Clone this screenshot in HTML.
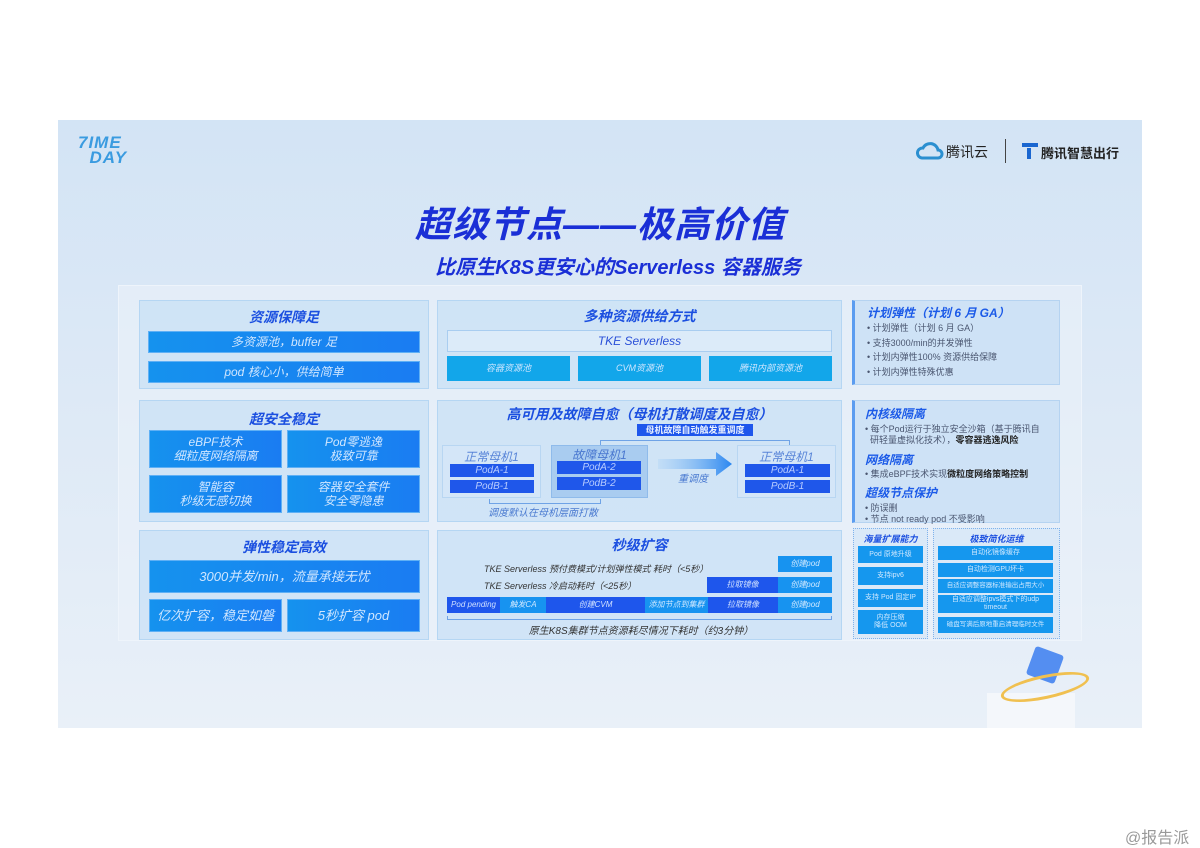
<!DOCTYPE html>
<html><head><meta charset="utf-8"><style>
*{margin:0;padding:0;box-sizing:border-box}
body{width:1200px;height:848px;background:#fff;position:relative;overflow:hidden;font-family:"Liberation Sans","Noto Sans CJK SC",sans-serif}
.a{position:absolute}
.slide{left:58px;top:120px;width:1084px;height:608px;background:linear-gradient(180deg,#d3e4f5 0%,#dde9f6 45%,#e9f0f8 100%)}
.panel{position:absolute;background:rgba(200,224,245,.75);border:1px solid #b5d6f3}
.t{position:absolute;left:0;right:0;text-align:center;color:#1b4fe0;font-weight:bold;font-style:italic}
.bar{position:absolute;color:#cfe6ff;font-style:italic;text-align:center;display:flex;align-items:center;justify-content:center;line-height:1.2}
.c1{background:linear-gradient(90deg,#1592ee,#1a7cf2);border:1px solid #5fb0f5}
.c2{background:#12a6ea}
.db{background:#1e56ec;color:#cfe0ff}
.cy{background:#1793f0;color:#cfe8ff}
.pod{position:absolute;background:#1f57ea;color:#b9cdff;font-size:10px;font-style:italic;text-align:center;line-height:13px}
.rt{color:#1b5ae8;font-weight:bold;font-style:italic;font-size:12px}
.li{font-size:9px;color:#4a5670;line-height:14.5px}
.sb{position:absolute;background:#1597ee;color:#cfe8ff;font-size:7px;text-align:center;display:flex;align-items:center;justify-content:center;line-height:1.1;white-space:nowrap;overflow:hidden}
</style></head><body>
<div class="a slide"></div>
<div class="a" style="left:78px;top:135px;color:#3a9be0;font-weight:bold;font-style:italic;font-size:17px;line-height:15px;letter-spacing:1px">7IME<br>&nbsp;&nbsp;DAY</div>
<svg class="a" style="left:916px;top:140px" width="28" height="22"><path d="M6 18a5 5 0 0 1 1-10a8 8 0 0 1 15 2a4 4 0 0 1 0 8z" fill="none" stroke="#2b8fd0" stroke-width="3"/></svg>
<div class="a" style="left:946px;top:142px;font-size:14px;color:#222">腾讯云</div>
<div class="a" style="left:1005px;top:139px;width:1px;height:24px;background:#444"></div>
<div class="a" style="left:1022px;top:143px;width:16px;height:4px;background:#1a66d0"></div>
<div class="a" style="left:1027px;top:148px;width:4px;height:11px;background:#1a66d0"></div>
<div class="a" style="left:1041px;top:143px;font-size:13px;color:#222;font-weight:bold">腾讯智慧出行</div>
<div class="a" style="left:0;width:1200px;top:196px;text-align:center;font-size:36px;font-weight:bold;font-style:italic;color:#1a2fd6;letter-spacing:1px">超级节点——极高价值</div>
<div class="a" style="left:0;width:1236px;top:251px;text-align:center;font-size:20px;font-weight:bold;font-style:italic;color:#1a2fd6">比原生K8S更安心的Serverless 容器服务</div>
<div class="a" style="left:118px;top:285px;width:964px;height:356px;background:rgba(235,242,250,.6);border:1px solid #eef4fb"></div>

<div class="panel" style="left:139px;top:300px;width:290px;height:89px"><div class="t" style="top:6px;font-size:14px">资源保障足</div></div>
<div class="bar c1" style="left:148px;top:331px;width:272px;height:22px;font-size:12px">多资源池，buffer 足</div>
<div class="bar c1" style="left:148px;top:361px;width:272px;height:22px;font-size:12px">pod 核心小，供给简单</div>

<div class="panel" style="left:139px;top:400px;width:290px;height:122px"><div class="t" style="top:8px;font-size:14px">超安全稳定</div></div>
<div class="bar c1" style="left:149px;top:430px;width:133px;height:38px;font-size:12px">eBPF技术<br>细粒度网络隔离</div>
<div class="bar c1" style="left:287px;top:430px;width:133px;height:38px;font-size:12px">Pod零逃逸<br>极致可靠</div>
<div class="bar c1" style="left:149px;top:475px;width:133px;height:38px;font-size:12px">智能容<br>秒级无感切换</div>
<div class="bar c1" style="left:287px;top:475px;width:133px;height:38px;font-size:12px">容器安全套件<br>安全零隐患</div>

<div class="panel" style="left:139px;top:530px;width:290px;height:110px"><div class="t" style="top:6px;font-size:14px">弹性稳定高效</div></div>
<div class="bar c1" style="left:149px;top:560px;width:271px;height:33px;font-size:13px">3000并发/min，流量承接无忧</div>
<div class="bar c1" style="left:149px;top:599px;width:133px;height:33px;font-size:13px">亿次扩容，稳定如磐</div>
<div class="bar c1" style="left:287px;top:599px;width:133px;height:33px;font-size:13px">5秒扩容 pod</div>

<div class="panel" style="left:437px;top:300px;width:405px;height:89px"><div class="t" style="top:5px;font-size:14px">多种资源供给方式</div></div>
<div class="bar" style="left:447px;top:330px;width:385px;height:22px;background:#dcebf9;border:1px solid #a9cdf0;color:#2a50d8;font-size:12px">TKE Serverless</div>
<div class="bar c2" style="left:447px;top:356px;width:123px;height:25px;font-size:9px">容器资源池</div>
<div class="bar c2" style="left:578px;top:356px;width:123px;height:25px;font-size:9px">CVM资源池</div>
<div class="bar c2" style="left:709px;top:356px;width:123px;height:25px;font-size:9px">腾讯内部资源池</div>

<div class="panel" style="left:437px;top:400px;width:405px;height:122px"><div class="t" style="top:3px;font-size:14px">高可用及故障自愈（母机打散调度及自愈）</div></div>
<div class="a" style="left:637px;top:424px;width:116px;height:12px;background:#1e56ec;color:#e6eeff;font-size:9px;font-weight:bold;text-align:center;line-height:12px">母机故障自动触发重调度</div>
<div class="a" style="left:600px;top:440px;width:190px;height:6px;border:1px solid #6fa3e6;border-bottom:none"></div>
<div class="a" style="left:442px;top:445px;width:99px;height:53px;background:#d4e6f8;border:1px solid #b8d6f2;color:#5a86d8;font-size:12px;font-style:italic;text-align:center;padding-top:2px">正常母机1</div>
<div class="pod" style="left:450px;top:464px;width:84px">PodA-1</div>
<div class="pod" style="left:450px;top:480px;width:84px">PodB-1</div>
<div class="a" style="left:551px;top:445px;width:97px;height:53px;background:#a9ccf0;border:1px solid #8fbbeb;color:#4a78d0;font-size:12px;font-style:italic;text-align:center">故障母机1</div>
<div class="pod" style="left:557px;top:461px;width:84px">PodA-2</div>
<div class="pod" style="left:557px;top:477px;width:84px">PodB-2</div>
<svg class="a" style="left:658px;top:452px" width="75" height="24"><defs><linearGradient id="g" x1="0" x2="1"><stop offset="0" stop-color="#8fc4f5" stop-opacity=".2"/><stop offset="1" stop-color="#2a86f0"/></linearGradient></defs><path d="M0 7h58v-7l16 12l-16 12v-7h-58z" fill="url(#g)"/></svg>
<div class="a" style="left:678px;top:470px;font-size:10px;color:#4a7ad0;font-style:italic">重调度</div>
<div class="a" style="left:737px;top:445px;width:99px;height:53px;background:#d4e6f8;border:1px solid #b8d6f2;color:#5a86d8;font-size:12px;font-style:italic;text-align:center;padding-top:2px">正常母机1</div>
<div class="pod" style="left:745px;top:464px;width:85px">PodA-1</div>
<div class="pod" style="left:745px;top:480px;width:85px">PodB-1</div>
<div class="a" style="left:489px;top:499px;width:112px;height:5px;border:1px solid #6fa3e6;border-top:none"></div>
<div class="a" style="left:488px;top:504px;font-size:10px;color:#4a7ad0;font-style:italic">调度默认在母机层面打散</div>

<div class="panel" style="left:437px;top:530px;width:405px;height:110px"><div class="t" style="top:4px;font-size:14px">秒级扩容</div></div>
<div class="a" style="left:484px;top:562px;font-size:9px;color:#333;font-style:italic">TKE Serverless 预付费模式/计划弹性模式 耗时（&lt;5秒）</div>
<div class="a" style="left:484px;top:579px;font-size:9px;color:#333;font-style:italic">TKE Serverless 冷启动耗时（&lt;25秒）</div>
<div class="bar cy" style="left:778px;top:556px;width:54px;height:16px;font-size:8px">创建pod</div>
<div class="bar db" style="left:707px;top:577px;width:71px;height:16px;font-size:8px">拉取镜像</div>
<div class="bar cy" style="left:778px;top:577px;width:54px;height:16px;font-size:8px">创建pod</div>
<div class="bar db" style="left:447px;top:597px;width:53px;height:16px;font-size:8px">Pod pending</div>
<div class="bar cy" style="left:500px;top:597px;width:46px;height:16px;font-size:8px">触发CA</div>
<div class="bar db" style="left:546px;top:597px;width:99px;height:16px;font-size:8px">创建CVM</div>
<div class="bar cy" style="left:645px;top:597px;width:63px;height:16px;font-size:8px">添加节点到集群</div>
<div class="bar db" style="left:708px;top:597px;width:70px;height:16px;font-size:8px">拉取镜像</div>
<div class="bar cy" style="left:778px;top:597px;width:54px;height:16px;font-size:8px">创建pod</div>
<div class="a" style="left:447px;top:616px;width:385px;height:4px;border:1px solid #6fa3e6;border-top:none"></div>
<div class="a" style="left:436px;top:622px;width:410px;text-align:center;font-size:10px;color:#333;font-style:italic">原生K8S集群节点资源耗尽情况下耗时（约3分钟）</div>

<div class="a" style="left:852px;top:300px;width:208px;height:85px;background:rgba(200,222,245,.8);border:1px solid #b5d3f1;border-left:3px solid #5b9cf0;padding:3px 0 0 12px">
<div class="rt">计划弹性（计划 6 月 GA）</div>
<div class="li">• 计划弹性（计划 6 月 GA）<br>• 支持3000/min的并发弹性<br>• 计划内弹性100% 资源供给保障<br>• 计划内弹性特殊优惠</div></div>
<div class="a" style="left:852px;top:400px;width:208px;height:123px;background:rgba(200,222,245,.8);border:1px solid #b5d3f1;border-left:3px solid #5b9cf0;padding:4px 0 0 10px">
<div class="rt">内核级隔离</div>
<div class="li" style="line-height:11px;margin-top:2px">• 每个Pod运行于独立安全沙箱（基于腾讯自<br>&nbsp;&nbsp;研轻量虚拟化技术），<b style="color:#222">零容器逃逸风险</b></div>
<div class="rt" style="margin-top:5px">网络隔离</div>
<div class="li" style="line-height:11px;margin-top:1px">• 集成eBPF技术实现<b style="color:#222">微粒度网络策略控制</b></div>
<div class="rt" style="margin-top:4px">超级节点保护</div>
<div class="li" style="line-height:11px;margin-top:2px">• 防误删<br>• 节点 not ready pod 不受影响</div></div>

<div class="a" style="left:853px;top:528px;width:75px;height:111px;border:1px dotted #7fb2ec;background:rgba(210,228,247,.6)"><div class="t" style="top:3px;font-size:9px">海量扩展能力</div></div>
<div class="sb" style="left:858px;top:546px;width:65px;height:17px">Pod 原地升级</div>
<div class="sb" style="left:858px;top:567px;width:65px;height:18px">支持ipv6</div>
<div class="sb" style="left:858px;top:589px;width:65px;height:18px">支持 Pod 固定IP</div>
<div class="sb" style="left:858px;top:610px;width:65px;height:24px">内存压缩<br>降低 OOM</div>
<div class="a" style="left:933px;top:528px;width:127px;height:111px;border:1px dotted #7fb2ec;background:rgba(210,228,247,.6)"><div class="t" style="top:3px;font-size:9px">极致简化运维</div></div>
<div class="sb" style="left:938px;top:546px;width:115px;height:14px">自动化镜像缓存</div>
<div class="sb" style="left:938px;top:563px;width:115px;height:14px">自动检测GPU坏卡</div>
<div class="sb" style="left:938px;top:579px;width:115px;height:14px;font-size:6.5px">自适应调整容器标准输出占用大小</div>
<div class="sb" style="left:938px;top:595px;width:115px;height:18px">自适应调整ipvs模式下的udp<br>timeout</div>
<div class="sb" style="left:938px;top:617px;width:115px;height:16px;font-size:6.5px">磁盘写满后原地重启清理临时文件</div>

<div class="a" style="left:987px;top:693px;width:88px;height:35px;background:#f4f7fb"></div>
<div class="a" style="left:1030px;top:650px;width:30px;height:30px;background:#3a7cf0;transform:rotate(20deg);border-radius:3px;opacity:.85"></div>
<div class="a" style="left:1000px;top:675px;width:90px;height:24px;border:3px solid #f0c050;border-radius:50%;transform:rotate(-12deg)"></div>
<div class="a" style="left:1125px;top:824px;font-size:16px;color:#999">@报告派</div>
</body></html>
